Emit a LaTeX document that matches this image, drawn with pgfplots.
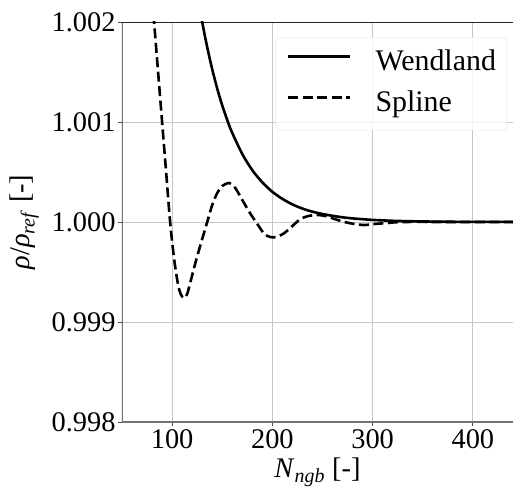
\documentclass[border=0pt]{standalone}
\usepackage{fontspec}
\setmainfont{Liberation Serif}
\usepackage{pgfplots}
\pgfplotsset{compat=1.18}

\begin{document}
\begin{tikzpicture}
\newcommand{\bigfont}{\fontsize{28.5}{34}\selectfont}
\newcommand{\legfont}{\fontsize{30}{36}\selectfont}
\begin{axis}[
  at={(0,0)}, anchor=south west,
  scale only axis,
  width=391bp, height=400bp,
  xmin=50, xmax=440,
  ymin=0.998, ymax=1.002,
  xtick={100,200,300,400},
  ytick={0.998,0.999,1.000,1.001,1.002},
  /pgf/number format/assume math mode=true,
  yticklabel style={/pgf/number format/fixed,/pgf/number format/precision=3,/pgf/number format/fixed zerofill},
  scaled y ticks=false,
  tick label style={font=\bigfont},
  yticklabel style={xshift=1bp},
  label style={font=\bigfont},
  xlabel={\textit{N}\textsubscript{\textit{ngb}} [-]},
  ylabel={\textit{ρ}/\textit{ρ}\textsubscript{\textit{ref}} [-]},
  xlabel style={yshift=-2bp},
  ylabel style={yshift=6bp},
  grid=major,
  major grid style={color=black!22, line width=0.9bp},
  axis line style={draw=none},
  tick style={color=black!70, line width=0.8bp},
  tick align=outside,
  major tick length=4bp,
  xtick pos=bottom, ytick pos=left,
  clip=true,
  legend style={
    at={(0.985,0.9625)}, anchor=north east,
    font=\legfont,
    draw=black!12, fill=white, fill opacity=0.8, text opacity=1,
    rounded corners=4bp,
    inner xsep=11bp, inner ysep=13bp,
    row sep=15bp,
    column sep=24bp,
    nodes={inner sep=0pt, text height=20bp, text depth=6bp},
  },
  legend cell align=left,
  legend image code/.code={\draw[#1] (0bp,7bp) -- (62bp,7bp);},
]
% frame: grey left/bottom spines, dark top/right
\draw[black!55, line width=1.6bp] (rel axis cs:0,1) -- (rel axis cs:0,0) -- (rel axis cs:1,0);
\draw[black!85, line width=0.9bp] (rel axis cs:0,1) -- (rel axis cs:1,1) -- (rel axis cs:1,0);
% Wendland kernel
\addplot[black, line width=2.6bp, smooth] coordinates {
  (125,1.00229) (130,1.00200) (135,1.001748) (140,1.001527) (145,1.001334)
  (150,1.001165) (156,1.000991) (160,1.000890) (170,1.000679) (180,1.000518)
  (190,1.000396) (200,1.000302) (210,1.000231) (220,1.000176) (230,1.000134)
  (240,1.000103) (250,1.000080) (260,1.000062) (270,1.000047) (280,1.000036)
  (290,1.000028) (300,1.000021) (320,1.000012) (340,1.000007) (360,1.000004)
  (380,1.000002) (400,1.000001) (440,1.0000005)
};
\addlegendentry{Wendland}
% Cubic spline kernel
\addplot[black, line width=2.6bp, smooth, dash pattern=on 10bp off 4.5bp] coordinates {
  (79,1.00237) (82,1.00200) (86,1.00150) (90,1.00100) (94,1.00050)
  (98,1.00000) (102,0.99963) (106,0.99937) (109,0.99927) (112,0.99924)
  (115,0.99928) (118,0.99939) (124,0.99962) (130,0.99983) (135,1.00000)
  (140,1.00017) (145,1.00029) (150,1.00036) (157,1.00039) (163,1.00034)
  (170,1.00022) (177,1.00010) (185,0.99998) (192,0.99988) (198,0.99985)
  (204,0.99985) (212,0.99989) (220,0.99996) (228,1.00003) (236,1.00006)
  (245,1.00007) (253,1.00006) (262,1.00003) (272,1.00000) (282,0.99998)
  (292,0.99997) (302,0.99998) (315,0.99999) (330,1.00000) (380,1.00000)
  (440,1.00000)
};
\addlegendentry{Spline}
\end{axis}
\pgfresetboundingbox
\path (-122bp,-66bp) rectangle (391bp,422bp);
\end{tikzpicture}
\end{document}
